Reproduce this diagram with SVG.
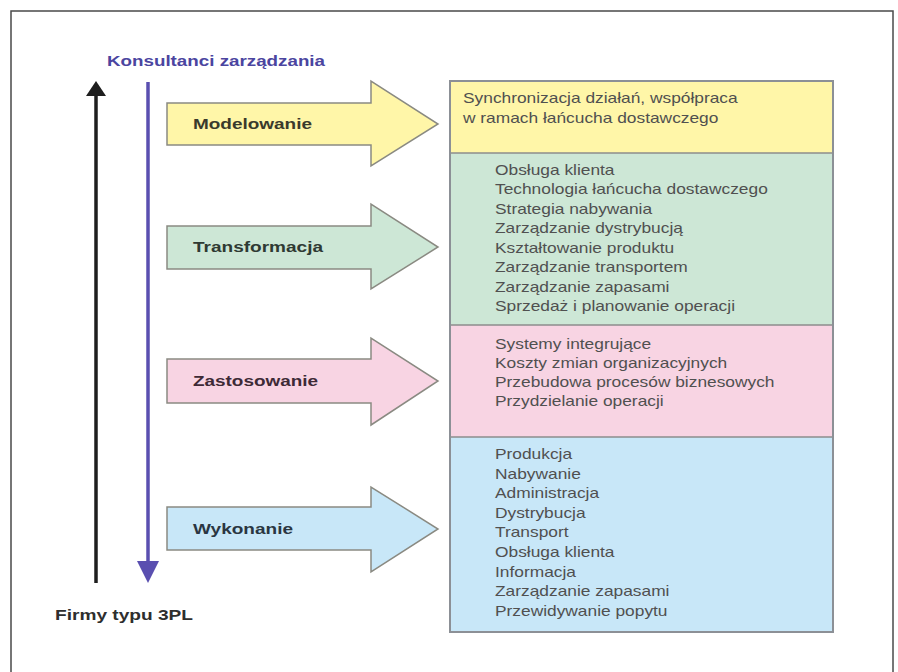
<svg xmlns="http://www.w3.org/2000/svg" width="898" height="672" viewBox="0 0 898 672">
  <style>
    .frame { fill: #ffffff; stroke: #4a4a4a; stroke-width: 1.5; }
    .arrow { stroke: #8a8a82; stroke-width: 1.5; stroke-linejoin: miter; }
    .lbl { font-family: "Liberation Sans", Arial, sans-serif; font-size: 14px; font-weight: bold; }
    .item { font-family: "Liberation Sans", Arial, sans-serif; font-size: 14px; fill: #505050; }
    .sec { stroke: #8c8c8c; stroke-width: 1.5; }
    .yel { fill: #fff6a8; }
    .grn { fill: #cde7d6; }
    .pnk { fill: #f8d4e3; }
    .blu { fill: #c8e7f8; }
  </style>

  <!-- page frame -->
  <rect class="frame" x="11" y="11" width="882" height="700"/>

  <!-- vertical axes -->
  <g id="axes">
    <line x1="96" y1="94" x2="96" y2="583" stroke="#1e1e1e" stroke-width="3.5"/>
    <polygon points="96,81 86,96 106,96" fill="#1e1e1e"/>
    <line x1="148" y1="82" x2="148" y2="564" stroke="#5a4fb0" stroke-width="3.5"/>
    <polygon points="137,561 159,561 148,583" fill="#5a4fb0"/>
    <text class="lbl" x="107" y="66" fill="#4b45a0" textLength="218" lengthAdjust="spacingAndGlyphs">Konsultanci zarządzania</text>
    <text class="lbl" x="55" y="620" fill="#2e2e2e" textLength="138" lengthAdjust="spacingAndGlyphs">Firmy typu 3PL</text>
  </g>

  <!-- level arrows -->
  <g id="modelowanie">
    <polygon class="arrow yel" points="167,103 371,103 371,81 438,124 371,166 371,145 167,145"/>
    <text class="lbl" x="193" y="129" fill="#3a3a2c" textLength="119" lengthAdjust="spacingAndGlyphs">Modelowanie</text>
  </g>
  <g id="transformacja">
    <polygon class="arrow grn" points="167,226 371,226 371,204 438,247 371,289 371,269 167,269"/>
    <text class="lbl" x="193" y="252" fill="#2f3a33" textLength="130" lengthAdjust="spacingAndGlyphs">Transformacja</text>
  </g>
  <g id="zastosowanie">
    <polygon class="arrow pnk" points="167,359 371,359 371,338 438,381 371,425 371,403 167,403"/>
    <text class="lbl" x="193" y="386" fill="#3e2a36" textLength="125" lengthAdjust="spacingAndGlyphs">Zastosowanie</text>
  </g>
  <g id="wykonanie">
    <polygon class="arrow blu" points="167,507 371,507 371,487 438,529 371,572 371,550 167,550"/>
    <text class="lbl" x="193" y="534" fill="#2a3642" textLength="100" lengthAdjust="spacingAndGlyphs">Wykonanie</text>
  </g>

  <!-- activity table -->
  <g id="tabela">
    <rect class="yel" x="450" y="81" width="383" height="72"/>
    <rect class="grn" x="450" y="153" width="383" height="172"/>
    <rect class="pnk" x="450" y="325" width="383" height="112"/>
    <rect class="blu" x="450" y="437" width="383" height="195"/>
    <line class="sec" x1="450" y1="153" x2="833" y2="153"/>
    <line class="sec" x1="450" y1="325" x2="833" y2="325"/>
    <line class="sec" x1="450" y1="437" x2="833" y2="437"/>
    <rect x="450" y="81" width="383" height="551" fill="none" stroke="#8c9096" stroke-width="2"/>

    <g transform="translate(463,0) scale(1.24,1)">
      <text class="item" x="0" y="103" fill="#4a4a3a">Synchronizacja działań, współpraca</text>
      <text class="item" x="0" y="123" fill="#4a4a3a">w ramach łańcucha dostawczego</text>
    </g>

    <g transform="translate(495,0) scale(1.24,1)">
      <text class="item" x="0" y="175">Obsługa klienta</text>
      <text class="item" x="0" y="194.5">Technologia łańcucha dostawczego</text>
      <text class="item" x="0" y="214">Strategia nabywania</text>
      <text class="item" x="0" y="233.5">Zarządzanie dystrybucją</text>
      <text class="item" x="0" y="253">Kształtowanie produktu</text>
      <text class="item" x="0" y="272.5">Zarządzanie transportem</text>
      <text class="item" x="0" y="292">Zarządzanie zapasami</text>
      <text class="item" x="0" y="311.5">Sprzedaż i planowanie operacji</text>

      <text class="item" x="0" y="349" fill="#553a48">Systemy integrujące</text>
      <text class="item" x="0" y="368" fill="#553a48">Koszty zmian organizacyjnych</text>
      <text class="item" x="0" y="387" fill="#553a48">Przebudowa procesów biznesowych</text>
      <text class="item" x="0" y="406" fill="#553a48">Przydzielanie operacji</text>

      <text class="item" x="0" y="459" fill="#3c4a58">Produkcja</text>
      <text class="item" x="0" y="478.6" fill="#3c4a58">Nabywanie</text>
      <text class="item" x="0" y="498.2" fill="#3c4a58">Administracja</text>
      <text class="item" x="0" y="517.8" fill="#3c4a58">Dystrybucja</text>
      <text class="item" x="0" y="537.4" fill="#3c4a58">Transport</text>
      <text class="item" x="0" y="557" fill="#3c4a58">Obsługa klienta</text>
      <text class="item" x="0" y="576.6" fill="#3c4a58">Informacja</text>
      <text class="item" x="0" y="596.2" fill="#3c4a58">Zarządzanie zapasami</text>
      <text class="item" x="0" y="615.8" fill="#3c4a58">Przewidywanie popytu</text>
    </g>
  </g>
</svg>
